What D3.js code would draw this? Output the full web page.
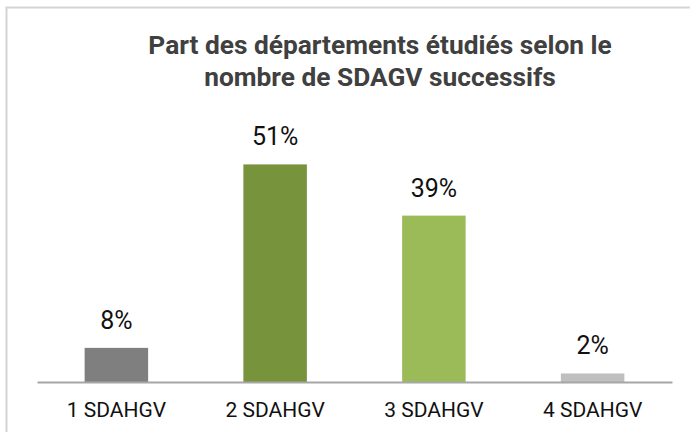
<!DOCTYPE html>
<html>
<head>
<meta charset="utf-8">
<script src="https://cdn.jsdelivr.net/npm/d3@7"></script>
<style>
  html, body { margin: 0; padding: 0; background: #fff; }
  svg { display: block; }
</style>
</head>
<body>
<svg id="chart" width="690" height="432"></svg>
<script>
const categories = ["1 SDAHGV", "2 SDAHGV", "3 SDAHGV", "4 SDAHGV"];
const values = [8, 51, 39, 2];
const valueLabels = ["8%", "51%", "39%", "2%"];
const colors = ["#7f7f7f", "#77933c", "#9bbb59", "#bfbfbf"];
const titleLines = ["Part des départements étudiés selon le", "nombre de SDAGV successifs"];

const svg = d3.select("#chart");
const W = 690, H = 432;

// border
svg.append("rect")
  .attr("x", 6.5).attr("y", 7.5)
  .attr("width", W + 20).attr("height", H + 20)
  .attr("fill", "#fff")
  .attr("stroke", "#d4d4d4")
  .attr("stroke-width", 2);

// title
const title = svg.append("text")
  .attr("text-anchor", "middle")
  .attr("font-family", "Roboto, 'Noto Sans', sans-serif")
  .attr("font-weight", "bold")
  .attr("font-size", 26.3)
  .attr("fill", "#404040");
titleLines.forEach((t, i) => {
  title.append("tspan").attr("x", 380).attr("y", 54 + i * 32).text(t);
});

const x = d3.scaleBand()
  .domain(categories)
  .range([37, 672])
  .paddingInner(0.6)
  .paddingOuter(0.3);

const y = d3.scaleLinear()
  .domain([0, 60])
  .range([382, 126]);

// bars
svg.selectAll("rect.bar")
  .data(values)
  .join("rect")
  .attr("class", "bar")
  .attr("x", (d, i) => x(categories[i]))
  .attr("y", d => y(d))
  .attr("width", x.bandwidth())
  .attr("height", d => y(0) - y(d))
  .attr("fill", (d, i) => colors[i]);

// value labels
svg.selectAll("text.val")
  .data(values)
  .join("text")
  .attr("class", "val")
  .attr("x", (d, i) => x(categories[i]) + x.bandwidth() / 2)
  .attr("y", d => y(d) - 19)
  .attr("text-anchor", "middle")
  .attr("font-family", "Roboto, sans-serif")
  .attr("font-size", 25)
  .attr("fill", "#111")
  .text((d, i) => valueLabels[i]);

// x axis
const xAxis = svg.append("g")
  .attr("transform", `translate(0,${y(0)})`)
  .call(d3.axisBottom(x).tickSize(0).tickPadding(35));
xAxis.select(".domain").attr("stroke", "#a6a6a6").attr("stroke-width", 2);
xAxis.selectAll(".tick text")
  .attr("font-family", "Roboto, sans-serif")
  .attr("font-size", 21)
  .attr("fill", "#111")
  .attr("dy", 0);
</script>
</body>
</html>
